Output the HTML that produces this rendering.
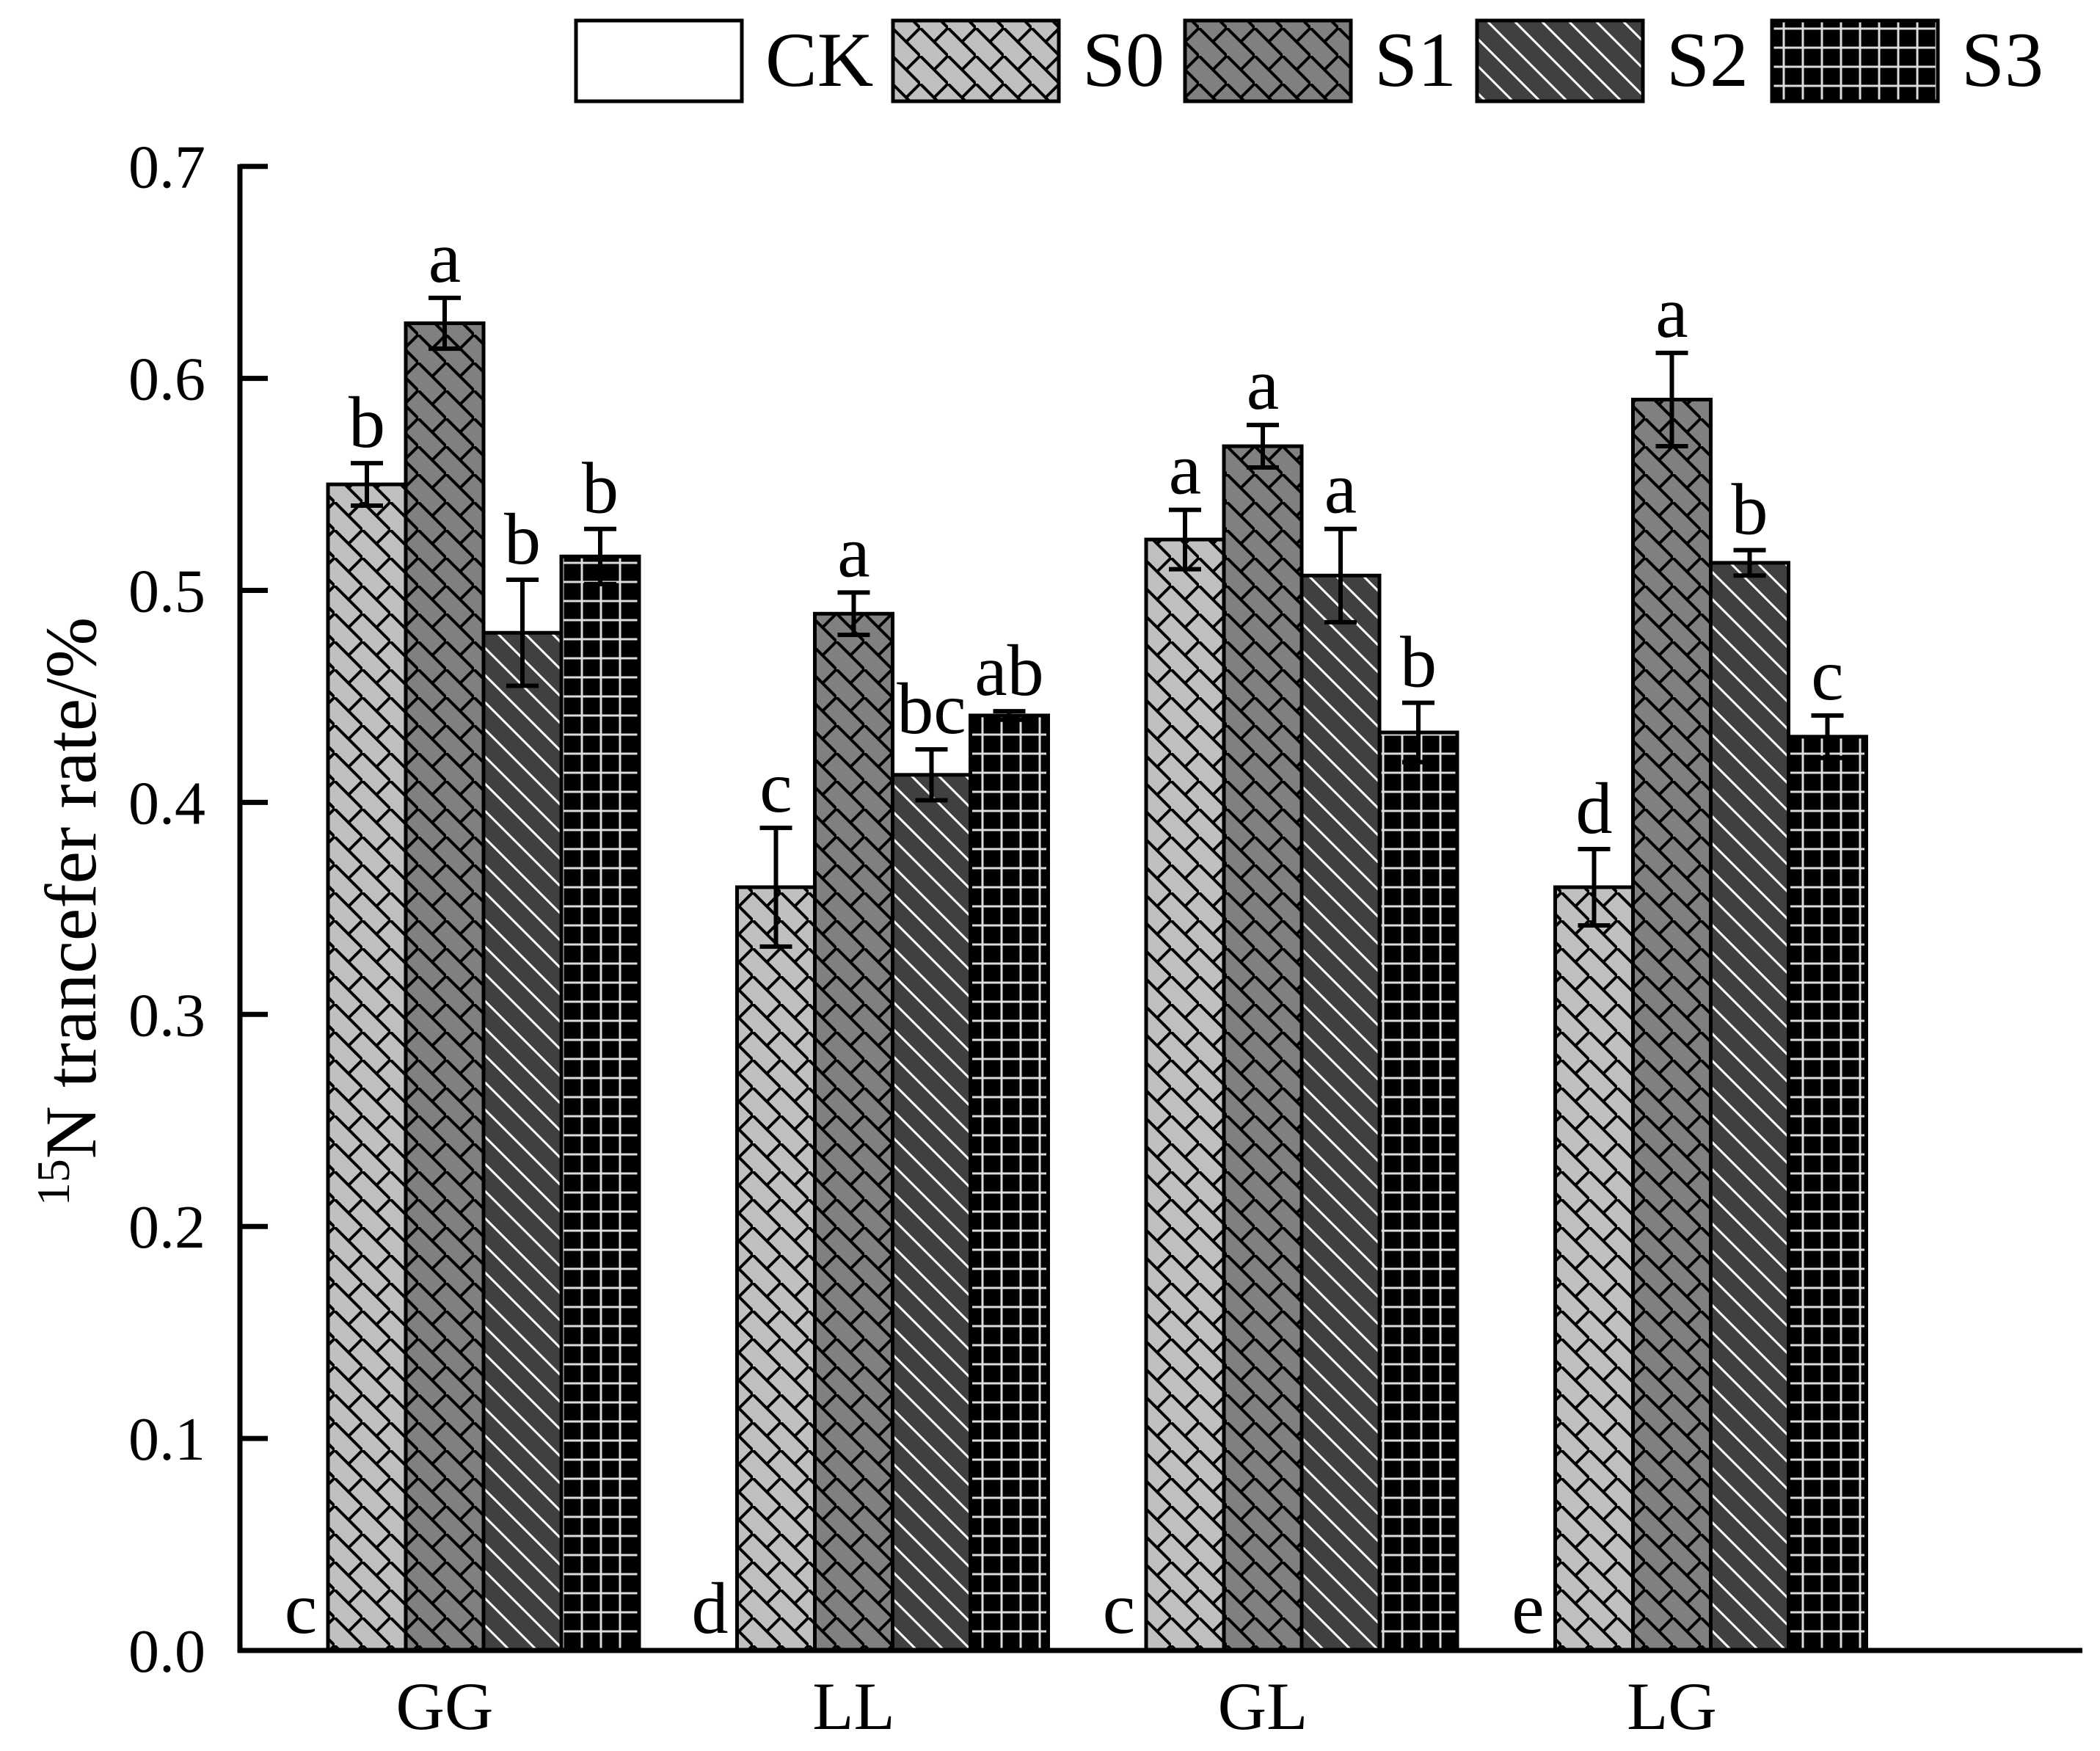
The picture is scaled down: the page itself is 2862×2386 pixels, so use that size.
<!DOCTYPE html>
<html><head><meta charset="utf-8"><style>
html,body{margin:0;padding:0;background:#fff;}
svg{display:block;font-family:"Liberation Serif",serif;}
</style></head><body>
<svg id="chart" width="2862" height="2386" viewBox="0 0 2862 2386" xmlns="http://www.w3.org/2000/svg">
<defs>
<pattern id="pS0" patternUnits="userSpaceOnUse" width="38" height="38">
<rect width="38" height="38" fill="#c0c0c0"/>
<path d="M0,0 L38,38 M19,19 L38,0 M0,38 L-19,57" stroke="#000" stroke-width="4" fill="none"/>
</pattern>
<pattern id="pS1" patternUnits="userSpaceOnUse" width="38" height="38">
<rect width="38" height="38" fill="#808080"/>
<path d="M0,0 L38,38 M19,19 L38,0" stroke="#000" stroke-width="4" fill="none"/>
</pattern>
<pattern id="pS2" patternUnits="userSpaceOnUse" width="37" height="37">
<rect width="37" height="37" fill="#404040"/>
<path d="M-5,-5 L42,42 M-5,32 L5,42 M32,-5 L42,5" stroke="#fff" stroke-width="3" fill="none"/>
</pattern>
<pattern id="pS3" patternUnits="userSpaceOnUse" width="26" height="26">
<rect width="26" height="26" fill="#000"/>
<path d="M13,0 L13,26 M0,13 L26,13" stroke="#ddd" stroke-width="3" fill="none"/>
</pattern>
</defs>
<g id="legend"></g>
<g id="bars"></g>
<g id="axes"></g>
<text transform="translate(130,1242) rotate(-90)" text-anchor="middle" font-size="100"><tspan font-size="64" dy="-36">15</tspan><tspan dy="36">N trancefer rate/%</tspan></text>
</svg>
<script>
const categories = ["GG", "LL", "GL", "LG"];
const series = ["CK", "S0", "S1", "S2", "S3"];
const valuesCK = [0, 0, 0, 0];
const valuesS0 = [0.550, 0.360, 0.524, 0.360];
const valuesS1 = [0.626, 0.489, 0.568, 0.590];
const valuesS2 = [0.480, 0.413, 0.507, 0.513];
const valuesS3 = [0.516, 0.441, 0.433, 0.431];
const errCK = [0, 0, 0, 0];
const errS0 = [0.010, 0.028, 0.014, 0.018];
const errS1 = [0.012, 0.010, 0.010, 0.022];
const errS2 = [0.025, 0.012, 0.022, 0.006];
const errS3 = [0.013, 0.002, 0.014, 0.010];
const lettersCK = ["c", "d", "c", "e"];
const lettersS0 = ["b", "c", "a", "d"];
const lettersS1 = ["a", "a", "a", "a"];
const lettersS2 = ["b", "bc", "a", "b"];
const lettersS3 = ["b", "ab", "b", "c"];
const yTicks = [0, 0.1, 0.2, 0.3, 0.4, 0.5, 0.6, 0.7];
const yTickLabels = ["0.0", "0.1", "0.2", "0.3", "0.4", "0.5", "0.6", "0.7"];

const NS = "http://www.w3.org/2000/svg";
const allVals = [valuesCK, valuesS0, valuesS1, valuesS2, valuesS3];
const allErr = [errCK, errS0, errS1, errS2, errS3];
const allLet = [lettersCK, lettersS0, lettersS1, lettersS2, lettersS3];
const fills = ["#fff", "url(#pS0)", "url(#pS1)", "url(#pS2)", "url(#pS3)"];
const Y0 = 2249, PER = 288.9/0.1, AXL = 327, AXR = 2838;
const BW = 106, PITCH = 557.5, FIRST = 341;
function y(v){ return Y0 - v*PER; }
function xBar(ci, si){ return FIRST + ci*PITCH + si*BW; }
function mk(tag, attrs, parent){ const e = document.createElementNS(NS, tag); for (const k in attrs) e.setAttribute(k, attrs[k]); parent.appendChild(e); return e; }

const bars = document.getElementById("bars");
categories.forEach((c, ci) => {
  series.forEach((s, si) => {
    const v = allVals[si][ci], e = allErr[si][ci];
    const x = xBar(ci, si);
    const r = mk("rect", {x: x, y: y(v), width: BW, height: Y0 - y(v), fill: fills[si], stroke: "#000", "stroke-width": 5}, bars);
    
    
    const cx = x + BW/2;
    let topY = y(v);
    if (v > 0) {
      const eb = mk("path", {d: `M${cx},${y(v-e)} L${cx},${y(v+e)} M${cx-22},${y(v+e)} L${cx+22},${y(v+e)} M${cx-22},${y(v-e)} L${cx+22},${y(v-e)}`, stroke: "#000", "stroke-width": 6, fill: "none"}, bars);
      
      
      topY = y(v+e) - 22;
    } else {
      topY = Y0 - 24;
    }
    const t = mk("text", {x: v > 0 ? cx : cx + 16, y: topY, "text-anchor": "middle", "font-size": 100}, bars);
    t.textContent = allLet[si][ci];
    
    
  });
  const lab = mk("text", {x: xBar(ci, 2) + BW/2, y: 2356, "text-anchor": "middle", "font-size": 92}, bars);
  lab.textContent = c;
  
  
});

const axes = document.getElementById("axes");
const ya = mk("path", {d: `M${AXL},${y(0.7)-3} L${AXL},${Y0+3}`, stroke: "#000", "stroke-width": 7}, axes);


const xa = mk("path", {d: `M${AXL-3},${Y0} L${AXR},${Y0}`, stroke: "#000", "stroke-width": 7}, axes);


yTicks.forEach((v, i) => {
  const tk = mk("path", {d: `M${AXL},${y(v)} L${AXL+38},${y(v)}`, stroke: "#000", "stroke-width": 7}, axes);
  
  
  const tl = mk("text", {x: 280, y: y(v) + 29, "text-anchor": "end", "font-size": 84}, axes);
  tl.textContent = yTickLabels[i];
  
  
});

const legend = document.getElementById("legend");
const legX = [785, 1217, 1615, 2013, 2415];
series.forEach((s, si) => {
  const r = mk("rect", {x: legX[si], y: 28, width: 226, height: 110, fill: fills[si], stroke: "#000", "stroke-width": 5}, legend);
  
  
  const t = mk("text", {x: legX[si] + 258, y: 117, "font-size": 106}, legend);
  t.textContent = s;
  
  
});
</script>
</body></html>
